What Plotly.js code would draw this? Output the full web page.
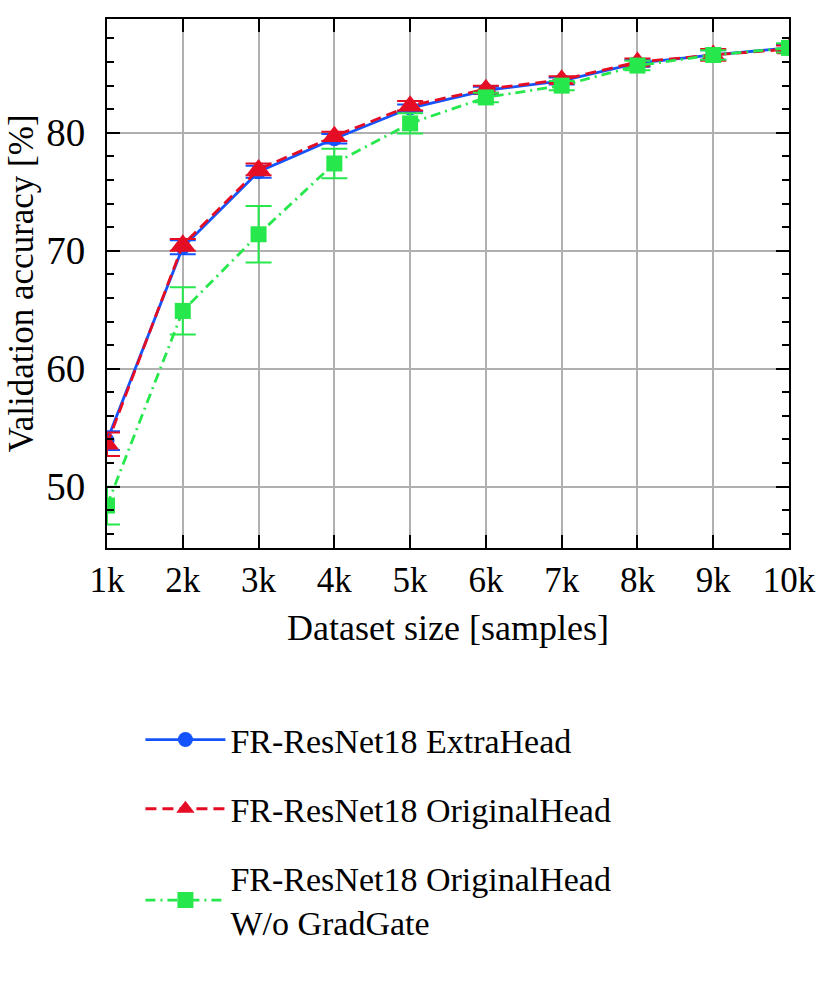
<!DOCTYPE html>
<html>
<head>
<meta charset="utf-8">
<script src="https://cdn.plot.ly/plotly-3.0.1.min.js"></script>
<style>html,body{margin:0;padding:0;background:#fff;}#chart{width:830px;height:997px;}</style>
</head>
<body>
<div id="chart"></div>
<script>
const datasetSize = [1000, 2000, 3000, 4000, 5000, 6000, 7000, 8000, 9000, 10000];
const xTickLabels = ["1k", "2k", "3k", "4k", "5k", "6k", "7k", "8k", "9k", "10k"];
const extraHead = [53.9, 70.3, 76.7, 79.5, 82.1, 83.6, 84.4, 85.9, 86.6, 87.2];
const extraHeadErr = [0.8, 0.6, 0.5, 0.4, 0.3, 0.3, 0.3, 0.3, 0.4, 0.3];
const originalHead = [53.6, 70.5, 76.9, 79.7, 82.3, 83.7, 84.5, 86.0, 86.6, 87.1];
const originalHeadErr = [1.0, 0.5, 0.5, 0.4, 0.4, 0.3, 0.3, 0.3, 0.5, 0.3];
const noGradGate = [48.4, 64.9, 71.4, 77.4, 80.8, 83.0, 84.0, 85.7, 86.6, 87.2];
const noGradGateErr = [1.6, 2.0, 2.4, 1.25, 0.85, 0.4, 0.4, 0.4, 0.4, 0.4];
const yTickValues = [50, 60, 70, 80];
const seriesNames = ["FR-ResNet18 ExtraHead", "FR-ResNet18 OriginalHead", "FR-ResNet18 OriginalHead<br>W/o GradGate"];

const FONT = "Liberation Serif";
const blue = "#1553ff", red = "#e50d24", green = "#26e84c";

function errObj(arr, color) {
  return {type: "data", array: arr, visible: true, color: color, thickness: 2, width: 13};
}

const traces = [
  {x: datasetSize, y: extraHead, name: seriesNames[0], legendgroup: "a", mode: "lines+markers",
   line: {color: blue, width: 2.8}, marker: {symbol: "circle", size: 15, color: blue},
   error_y: errObj(extraHeadErr, blue)},
  {x: datasetSize, y: originalHead, name: seriesNames[1], legendgroup: "b", mode: "lines+markers",
   line: {color: red, width: 2.8, dash: "11px,6px"}, marker: {symbol: "triangle-up", size: 21, color: red},
   error_y: errObj(originalHeadErr, red)},
  {x: datasetSize, y: noGradGate, name: seriesNames[2], legendgroup: "c", mode: "lines+markers",
   line: {color: green, width: 2.8, dash: "10px,5px,2px,5px"}, marker: {symbol: "square", size: 16, color: green},
   error_y: errObj(noGradGateErr, green)}
];

const layout = {
  width: 830, height: 997,
  margin: {l: 107, r: 41, t: 19, b: 449},
  paper_bgcolor: "#fff", plot_bgcolor: "#fff",
  font: {family: FONT, color: "#000", size: 34},
  showlegend: true,
  legend: {x: 0.049, y: -0.308, xanchor: "left", yanchor: "top", font: {family: FONT, size: 34, color: "#000"},
           bgcolor: "rgba(0,0,0,0)", itemwidth: 80, tracegroupgap: 22},
  xaxis: {
    range: [1000, 10000], tickvals: datasetSize, ticktext: xTickLabels,
    showgrid: true, gridcolor: "#b0b0b0", gridwidth: 2,
    showline: true, linecolor: "#000", linewidth: 2, mirror: "allticks",
    ticks: "inside", ticklen: 13, tickwidth: 2, tickcolor: "#000",
    tickfont: {family: FONT, size: 35, color: "#000"},
    zeroline: false,
    title: {text: "Dataset size [samples]", font: {family: FONT, size: 36, color: "#000"}, standoff: 16}
  },
  yaxis: {
    range: [44.8, 89.65], tickvals: yTickValues,
    showgrid: true, gridcolor: "#b0b0b0", gridwidth: 2,
    showline: true, linecolor: "#000", linewidth: 2, mirror: "allticks",
    ticks: "inside", ticklen: 13, tickwidth: 2, tickcolor: "#000",
    minor: {dtick: 2, tick0: 0, ticks: "inside", ticklen: 7, tickwidth: 2, tickcolor: "#000", showgrid: false},
    tickfont: {family: FONT, size: 39, color: "#000"},
    ticklabelstandoff: 12,
    zeroline: false,
    title: {text: "Validation accuracy [%]", font: {family: FONT, size: 35, color: "#000"}, standoff: 2}
  }
};

Plotly.newPlot("chart", traces, layout, {staticPlot: true, displayModeBar: false});
</script>
</body>
</html>
